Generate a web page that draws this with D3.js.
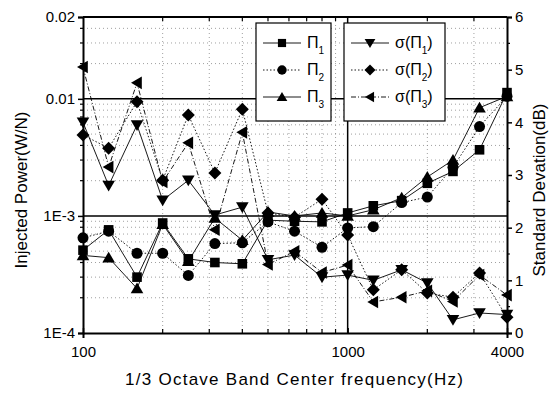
<!DOCTYPE html>
<html><head><meta charset="utf-8">
<script src="https://cdn.jsdelivr.net/npm/d3@7"></script>
<style>
body{margin:0;background:#fff;}
text{font-family:"Liberation Sans",Arial,Helvetica,sans-serif;fill:#000;}
</style></head>
<body><svg id="c" width="551" height="393"></svg>
<script>
const freqs = [100,125,160,200,250,315,400,500,630,800,1000,1250,1600,2000,2500,3150,4000];
const pi1 = [5.1e-4,7.6e-4,3.0e-4,8.7e-4,4.3e-4,4.0e-4,3.9e-4,9.2e-4,9.0e-4,8.9e-4,1.06e-3,1.22e-3,1.35e-3,1.9e-3,2.4e-3,3.67e-3,1.13e-2];
const pi2 = [6.5e-4,7.4e-4,4.8e-4,4.8e-4,3.1e-4,5.8e-4,5.9e-4,8.9e-4,7.4e-4,5.4e-4,7.9e-4,8.1e-4,1.3e-3,1.45e-3,2.6e-3,5.8e-3,1.05e-2];
const pi3 = [4.6e-4,4.4e-4,2.4e-4,8.5e-4,4.1e-4,9.6e-4,6.2e-4,1.08e-3,1.0e-3,1.06e-3,1.0e-3,1.13e-3,1.43e-3,2.15e-3,3.0e-3,8.4e-3,1.05e-2];
const sig1 = [4.0,2.8,3.95,2.52,2.9,2.24,2.39,1.39,1.48,1.06,1.1,1.0,1.2,0.95,0.25,0.38,0.35];
const sig2 = [3.76,3.51,4.39,2.9,4.14,3.04,4.25,2.28,2.2,2.54,1.86,0.82,1.2,0.76,0.68,1.14,0.3];
const sig3 = [5.05,3.15,4.75,2.87,3.61,1.96,3.81,1.3,1.55,1.15,1.29,0.59,0.68,0.8,0.6,1.1,0.72];
const xTickValues = [100,1000,4000];
const xTickLabels = ["100","1000","4000"];
const leftTickValues = [1e-4,1e-3,1e-2,5e-2];
const leftTickLabels = ["1E-4","1E-3","0.01","0.02"];
const rightTickValues = [0,1,2,3,4,5,6];

const svg = d3.select("#c");
const L=83,R=507,T=17,B=333;
const x = d3.scaleLog().domain([100,4000]).range([L,R]);
const yL = d3.scaleLog().domain([1e-4,5e-2]).range([B,T]);
const yR = d3.scaleLinear().domain([0,6]).range([B,T]);

// minor grid
const g = svg.append("g");
const xMinor = [];
[100,1000].forEach(d=>{for(let k=2;k<=9;k++){const v=d*k; if(v<4000) xMinor.push(v);}});
xMinor.forEach(v=>{
  g.append("line").attr("x1",x(v)).attr("x2",x(v)).attr("y1",T).attr("y2",B)
   .attr("stroke","#888").attr("stroke-width",0.8).attr("stroke-dasharray","1,3");
});
const yMinor=[];
[1e-4,1e-3,1e-2].forEach(d=>{for(let k=2;k<=9;k++){const v=d*k; if(v<5e-2) yMinor.push(v);}});
yMinor.forEach(v=>{
  g.append("line").attr("x1",L).attr("x2",R).attr("y1",yL(v)).attr("y2",yL(v))
   .attr("stroke","#888").attr("stroke-width",0.8).attr("stroke-dasharray","1,3");
});
// major grid
[1e-3,1e-2].forEach(v=>{
  g.append("line").attr("x1",L).attr("x2",R).attr("y1",yL(v)).attr("y2",yL(v)).attr("stroke","#000").attr("stroke-width",1.5);
});
g.append("line").attr("x1",x(1000)).attr("x2",x(1000)).attr("y1",T).attr("y2",B).attr("stroke","#000").attr("stroke-width",1.5);

// axes
const axL = d3.axisLeft(yL).tickValues(leftTickValues).tickFormat((d,i)=>leftTickLabels[i]).tickSize(5).tickPadding(3);
const gl = svg.append("g").attr("transform",`translate(${L},0)`).call(axL);
const axR = d3.axisRight(yR).tickValues(rightTickValues).tickFormat(d3.format("d")).tickSize(5).tickPadding(3);
const gr = svg.append("g").attr("transform",`translate(${R},0)`).call(axR);
const axB = d3.axisBottom(x).tickValues(xTickValues).tickFormat((d,i)=>xTickLabels[i]).tickSize(5).tickPadding(8);
const gb = svg.append("g").attr("transform",`translate(0,${B})`).call(axB);
[gl,gr,gb].forEach(a=>{
  a.selectAll("path").attr("stroke","#000").attr("stroke-width",2);
  a.selectAll(".tick line").attr("stroke","#000").attr("stroke-width",1.5);
  a.selectAll("text").attr("font-size",15).attr("fill","#000");
});
gb.selectAll(".tick line").attr("y2",-5);
svg.append("line").attr("x1",L).attr("x2",R).attr("y1",T).attr("y2",T).attr("stroke","#000").attr("stroke-width",2);
// minor ticks
yMinor.forEach(v=>{svg.append("line").attr("x1",L).attr("x2",L-3).attr("y1",yL(v)).attr("y2",yL(v)).attr("stroke","#000").attr("stroke-width",1.2);});
[0.5,1.5,2.5,3.5,4.5,5.5].forEach(v=>{svg.append("line").attr("x1",R).attr("x2",R+3).attr("y1",yR(v)).attr("y2",yR(v)).attr("stroke","#000").attr("stroke-width",1.2);});
xMinor.forEach(v=>{
  svg.append("line").attr("x1",x(v)).attr("x2",x(v)).attr("y1",B).attr("y2",B-4).attr("stroke","#000").attr("stroke-width",1.2);
  svg.append("line").attr("x1",x(v)).attr("x2",x(v)).attr("y1",T).attr("y2",T+4).attr("stroke","#000").attr("stroke-width",1.2);
});

// series
function markerPath(shape){
  const s=6;
  switch(shape){
    case "square": return `M${-4.8},${-4.8}h9.6v9.6h-9.6Z`;
    case "circle": return d3.symbol().type(d3.symbolCircle).size(95)();
    case "up": return `M0,${-s}L${s*1.05},${s*0.8}L${-s*1.05},${s*0.8}Z`;
    case "down": return `M0,${s}L${s*1.05},${-s*0.8}L${-s*1.05},${-s*0.8}Z`;
    case "left": return `M${-s},0L${s*0.8},${-s*1.05}L${s*0.8},${s*1.05}Z`;
    case "diamond": return `M0,${-6.5}L6.5,0L0,6.5L-6.5,0Z`;
  }
}
const series = [
  {vals:pi1, y:yL, shape:"square", dash:null},
  {vals:pi2, y:yL, shape:"circle", dash:"1.5,2"},
  {vals:pi3, y:yL, shape:"up", dash:null},
  {vals:sig1, y:yR, shape:"down", dash:null},
  {vals:sig2, y:yR, shape:"diamond", dash:"1.5,2"},
  {vals:sig3, y:yR, shape:"left", dash:"5,2,1,2"}
];
const plot = svg.append("g");
series.forEach(s=>{
  const line = d3.line().x((d,i)=>x(freqs[i])).y(d=>s.y(d));
  plot.append("path").attr("d",line(s.vals)).attr("fill","none").attr("stroke","#000").attr("stroke-width",0.9)
    .attr("stroke-dasharray",s.dash);
});
series.forEach(s=>{
  plot.selectAll(null).data(s.vals).enter().append("path")
    .attr("transform",(d,i)=>`translate(${x(freqs[i])},${s.y(d)})`)
    .attr("d",markerPath(s.shape)).attr("fill","#000");
});

// legends
const lg = svg.append("g");
const boxes = [{x0:256,x1:331,items:[0,1,2]},{x0:344,x1:445,items:[3,4,5]}];
const rowsY = [43,70,97];
boxes.forEach((b,bi)=>{
  lg.append("rect").attr("x",b.x0).attr("y",23).attr("width",b.x1-b.x0).attr("height",98)
    .attr("fill","#fff").attr("stroke","#000").attr("stroke-width",1.2);
  b.items.forEach((si,r)=>{
    const s=series[si]; const yy=rowsY[r];
    const lx0=b.x0+7, lx1=b.x0+45, mx=b.x0+26;
    lg.append("line").attr("x1",lx0).attr("x2",lx1).attr("y1",yy).attr("y2",yy).attr("stroke","#000").attr("stroke-width",0.9).attr("stroke-dasharray",s.dash);
    lg.append("path").attr("transform",`translate(${mx},${yy}) scale(0.85)`).attr("d",markerPath(s.shape)).attr("fill","#000");
    const t = lg.append("text").attr("x",b.x0+51).attr("y",yy+5).attr("font-size",16);
    const n = (r+1).toString();
    if(bi===0){
      t.append("tspan").text("Π");
      t.append("tspan").attr("font-size",10).attr("dy",6).text(n);
    } else {
      t.append("tspan").text("σ(Π");
      t.append("tspan").attr("font-size",10).attr("dy",6).text(n);
      t.append("tspan").attr("dy",-6).text(")");
    }
  });
});

// titles
svg.append("text").attr("x",294).attr("y",385).attr("text-anchor","middle").attr("font-size",17)
  .attr("textLength",338).attr("lengthAdjust","spacing")
  .text("1/3 Octave Band Center frequency(Hz)");
svg.append("text").attr("transform","translate(27,190) rotate(-90)").attr("text-anchor","middle").attr("font-size",17)
  .text("Injected Power(W/N)");
svg.append("text").attr("transform","translate(545,190) rotate(-90)").attr("text-anchor","middle").attr("font-size",17)
  .text("Standard Devation(dB)");
</script></body></html>
